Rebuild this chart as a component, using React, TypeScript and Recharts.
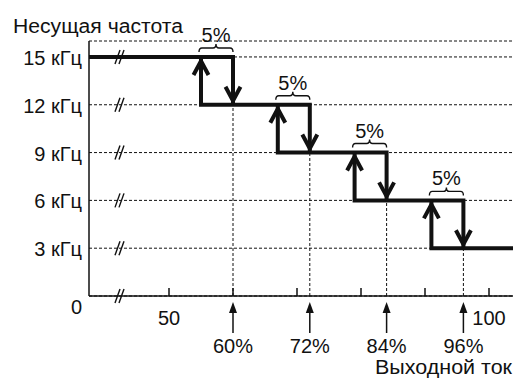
import React from "react";
import {
  CartesianGrid,
  ComposedChart,
  Line,
  ReferenceLine,
  Scatter,
  XAxis,
  YAxis,
} from "recharts";

// carrier frequency steps (kHz), top to bottom
const levels = [15, 12, 9, 6, 3];
// output current (%) where frequency steps down / comes back up
const downAt = [60, 72, 84, 96];
const upAt = [55, 67, 79, 91];
const yTicks = [0, 3, 6, 9, 12, 15];
const xTicks = [50, 60, 70, 80, 90, 100];
const xLabels = [50, 100];
const breakAt = 42.5;
const xMin = 37.5;
const xMax = 103.75;

const INK = "#111";
const FONT = 20;

// one thick polyline per frequency level, arrows on its vertical ends
const segments = levels.map((lvl, i) => {
  const points: { x: number; y: number }[] = [];
  if (i > 0) {
    points.push({ x: upAt[i - 1], y: levels[i - 1] });
    points.push({ x: upAt[i - 1], y: lvl });
  } else {
    points.push({ x: xMin, y: lvl });
  }
  if (i < levels.length - 1) {
    points.push({ x: downAt[i], y: lvl });
    points.push({ x: downAt[i], y: levels[i + 1] });
  } else {
    points.push({ x: xMax, y: lvl });
  }
  return { points, start: i > 0, end: i < levels.length - 1 };
});

const breakMarks = yTicks.map((y) => ({ x: breakAt, y }));
const xAxisTicks = Array.from(new Set([...xTicks, ...downAt])).sort((a, b) => a - b);

const Chevron = ({ cx, cy, dir }: any) => {
  const s = dir === "up" ? 1 : -1;
  const tip = cy + s * 4;
  return (
    <polyline
      points={`${cx - 7.5},${tip + s * 14} ${cx},${tip} ${cx + 7.5},${tip + s * 14}`}
      fill="none"
      stroke={INK}
      strokeWidth={4}
      strokeLinejoin="miter"
      strokeMiterlimit={10}
    />
  );
};

const YTick = ({ x, y, payload }: any) => {
  const v = payload.value;
  return (
    <text
      x={x - 7}
      y={v === 0 ? y + 18 : y + 8}
      textAnchor="end"
      fontSize={FONT}
      fill={INK}
    >
      {v === 0 ? "0" : `${v} кГц`}
    </text>
  );
};

const XTick = ({ x, y, payload }: any) => {
  const v = payload.value;
  return (
    <g>
      {xTicks.includes(v) && (
        <line x1={x} x2={x} y1={y} y2={y - 8} stroke={INK} strokeWidth={1.5} />
      )}
      {xLabels.includes(v) && (
        <text x={x} y={y + 29} textAnchor="middle" fontSize={FONT} fill={INK}>
          {v}
        </text>
      )}
      {downAt.includes(v) && (
        <g>
          <line x1={x} x2={x} y1={y + 14} y2={y + 37} stroke={INK} strokeWidth={1.5} />
          <polygon points={`${x},${y + 6} ${x - 4},${y + 17} ${x + 4},${y + 17}`} fill={INK} />
          <text x={x} y={y + 57} textAnchor="middle" fontSize={FONT} fill={INK}>
            {v}%
          </text>
        </g>
      )}
    </g>
  );
};

const BreakMark = ({ cx, cy }: any) => (
  <g stroke={INK} strokeWidth={1.4}>
    <line x1={cx - 6} y1={cy + 7} x2={cx - 1} y2={cy - 7} />
    <line x1={cx - 2} y1={cy + 7} x2={cx + 3} y2={cy - 7} />
  </g>
);

const Brace = ({ x1, x2, y1 }: any) => {
  const a = x1 - 2;
  const b = x2;
  const m = (a + b) / 2;
  const yb = y1 - 5;
  const ya = y1 - 9;
  const yt = y1 - 13;
  const d = `M${a},${yb} Q${a},${ya} ${a + 3},${ya} L${m - 3},${ya} Q${m},${ya} ${m},${yt} Q${m},${ya} ${m + 3},${ya} L${b - 3},${ya} Q${b},${ya} ${b},${yb}`;
  return (
    <g>
      <path d={d} fill="none" stroke={INK} strokeWidth={1.4} />
      <text x={m} y={y1 - 15} textAnchor="middle" fontSize={FONT} fill={INK}>
        5%
      </text>
    </g>
  );
};

const YTitle = (props: any) => {
  const vb = props.viewBox || { x: 0, y: 41 };
  return (
    <text
      x={vb.x + 13}
      y={vb.y - 8}
      fontSize={FONT}
      fill={INK}
      textLength={170}
      lengthAdjust="spacingAndGlyphs"
    >
      Несущая частота
    </text>
  );
};

const XTitle = (props: any) => {
  const vb = props.viewBox || { x: 89, y: 296, width: 424 };
  return (
    <text
      x={vb.x + vb.width - 1}
      y={vb.y + 78}
      textAnchor="end"
      fontSize={FONT}
      fill={INK}
      textLength={137}
      lengthAdjust="spacingAndGlyphs"
    >
      Выходной ток
    </text>
  );
};

const CarrierFrequencyChart = () => {
  return (
    <div
      style={{
        position: "absolute",
        left: 0,
        top: 0,
        fontFamily: "'Liberation Sans', Arial, sans-serif",
        background: "#fff",
      }}
    >
      <ComposedChart width={515} height={378} margin={{ top: 41, right: 2, bottom: 0, left: 0 }}>
        <CartesianGrid vertical={false} stroke={INK} strokeDasharray="3 2" strokeWidth={1} />
        <XAxis
          dataKey="x"
          type="number"
          domain={[xMin, xMax]}
          ticks={xAxisTicks}
          interval={0}
          height={82}
          tickSize={0}
          tickMargin={0}
          tickLine={false}
          axisLine={{ stroke: INK, strokeWidth: 1.5 }}
          tick={<XTick />}
          label={XTitle}
        />
        <YAxis
          dataKey="y"
          type="number"
          domain={[0, 16]}
          ticks={yTicks}
          interval={0}
          width={89}
          tickSize={0}
          tickMargin={0}
          tickLine={false}
          axisLine={{ stroke: INK, strokeWidth: 1.5 }}
          tick={<YTick />}
          label={YTitle}
        />
        {downAt.map((x, i) => (
          <ReferenceLine
            key={`v${x}`}
            segment={[
              { x, y: 0 },
              { x, y: levels[i + 1] },
            ]}
            stroke={INK}
            strokeDasharray="3 2"
            strokeWidth={1}
          />
        ))}
        {downAt.map((x, i) => (
          <ReferenceLine
            key={`b${x}`}
            segment={[
              { x: upAt[i], y: levels[i] },
              { x, y: levels[i] },
            ]}
            shape={(p: any) => <Brace {...p} />}
          />
        ))}
        {segments.map((seg, si) => (
          <Line
            key={`s${si}`}
            data={seg.points}
            dataKey="y"
            type="linear"
            stroke={INK}
            strokeWidth={4}
            strokeLinejoin="miter"
            strokeLinecap="butt"
            activeDot={false}
            isAnimationActive={false}
            dot={(p: any) => {
              const n = seg.points.length;
              const k = `d${si}-${p.index}`;
              if (p.index === 0 && seg.start)
                return <Chevron key={k} cx={p.cx} cy={p.cy} dir="up" />;
              if (p.index === n - 1 && seg.end)
                return <Chevron key={k} cx={p.cx} cy={p.cy} dir="down" />;
              return <g key={k} />;
            }}
          />
        ))}
        <Scatter
          data={breakMarks}
          dataKey="y"
          isAnimationActive={false}
          shape={(p: any) => <BreakMark {...p} />}
        />
      </ComposedChart>
    </div>
  );
};

export default CarrierFrequencyChart;
